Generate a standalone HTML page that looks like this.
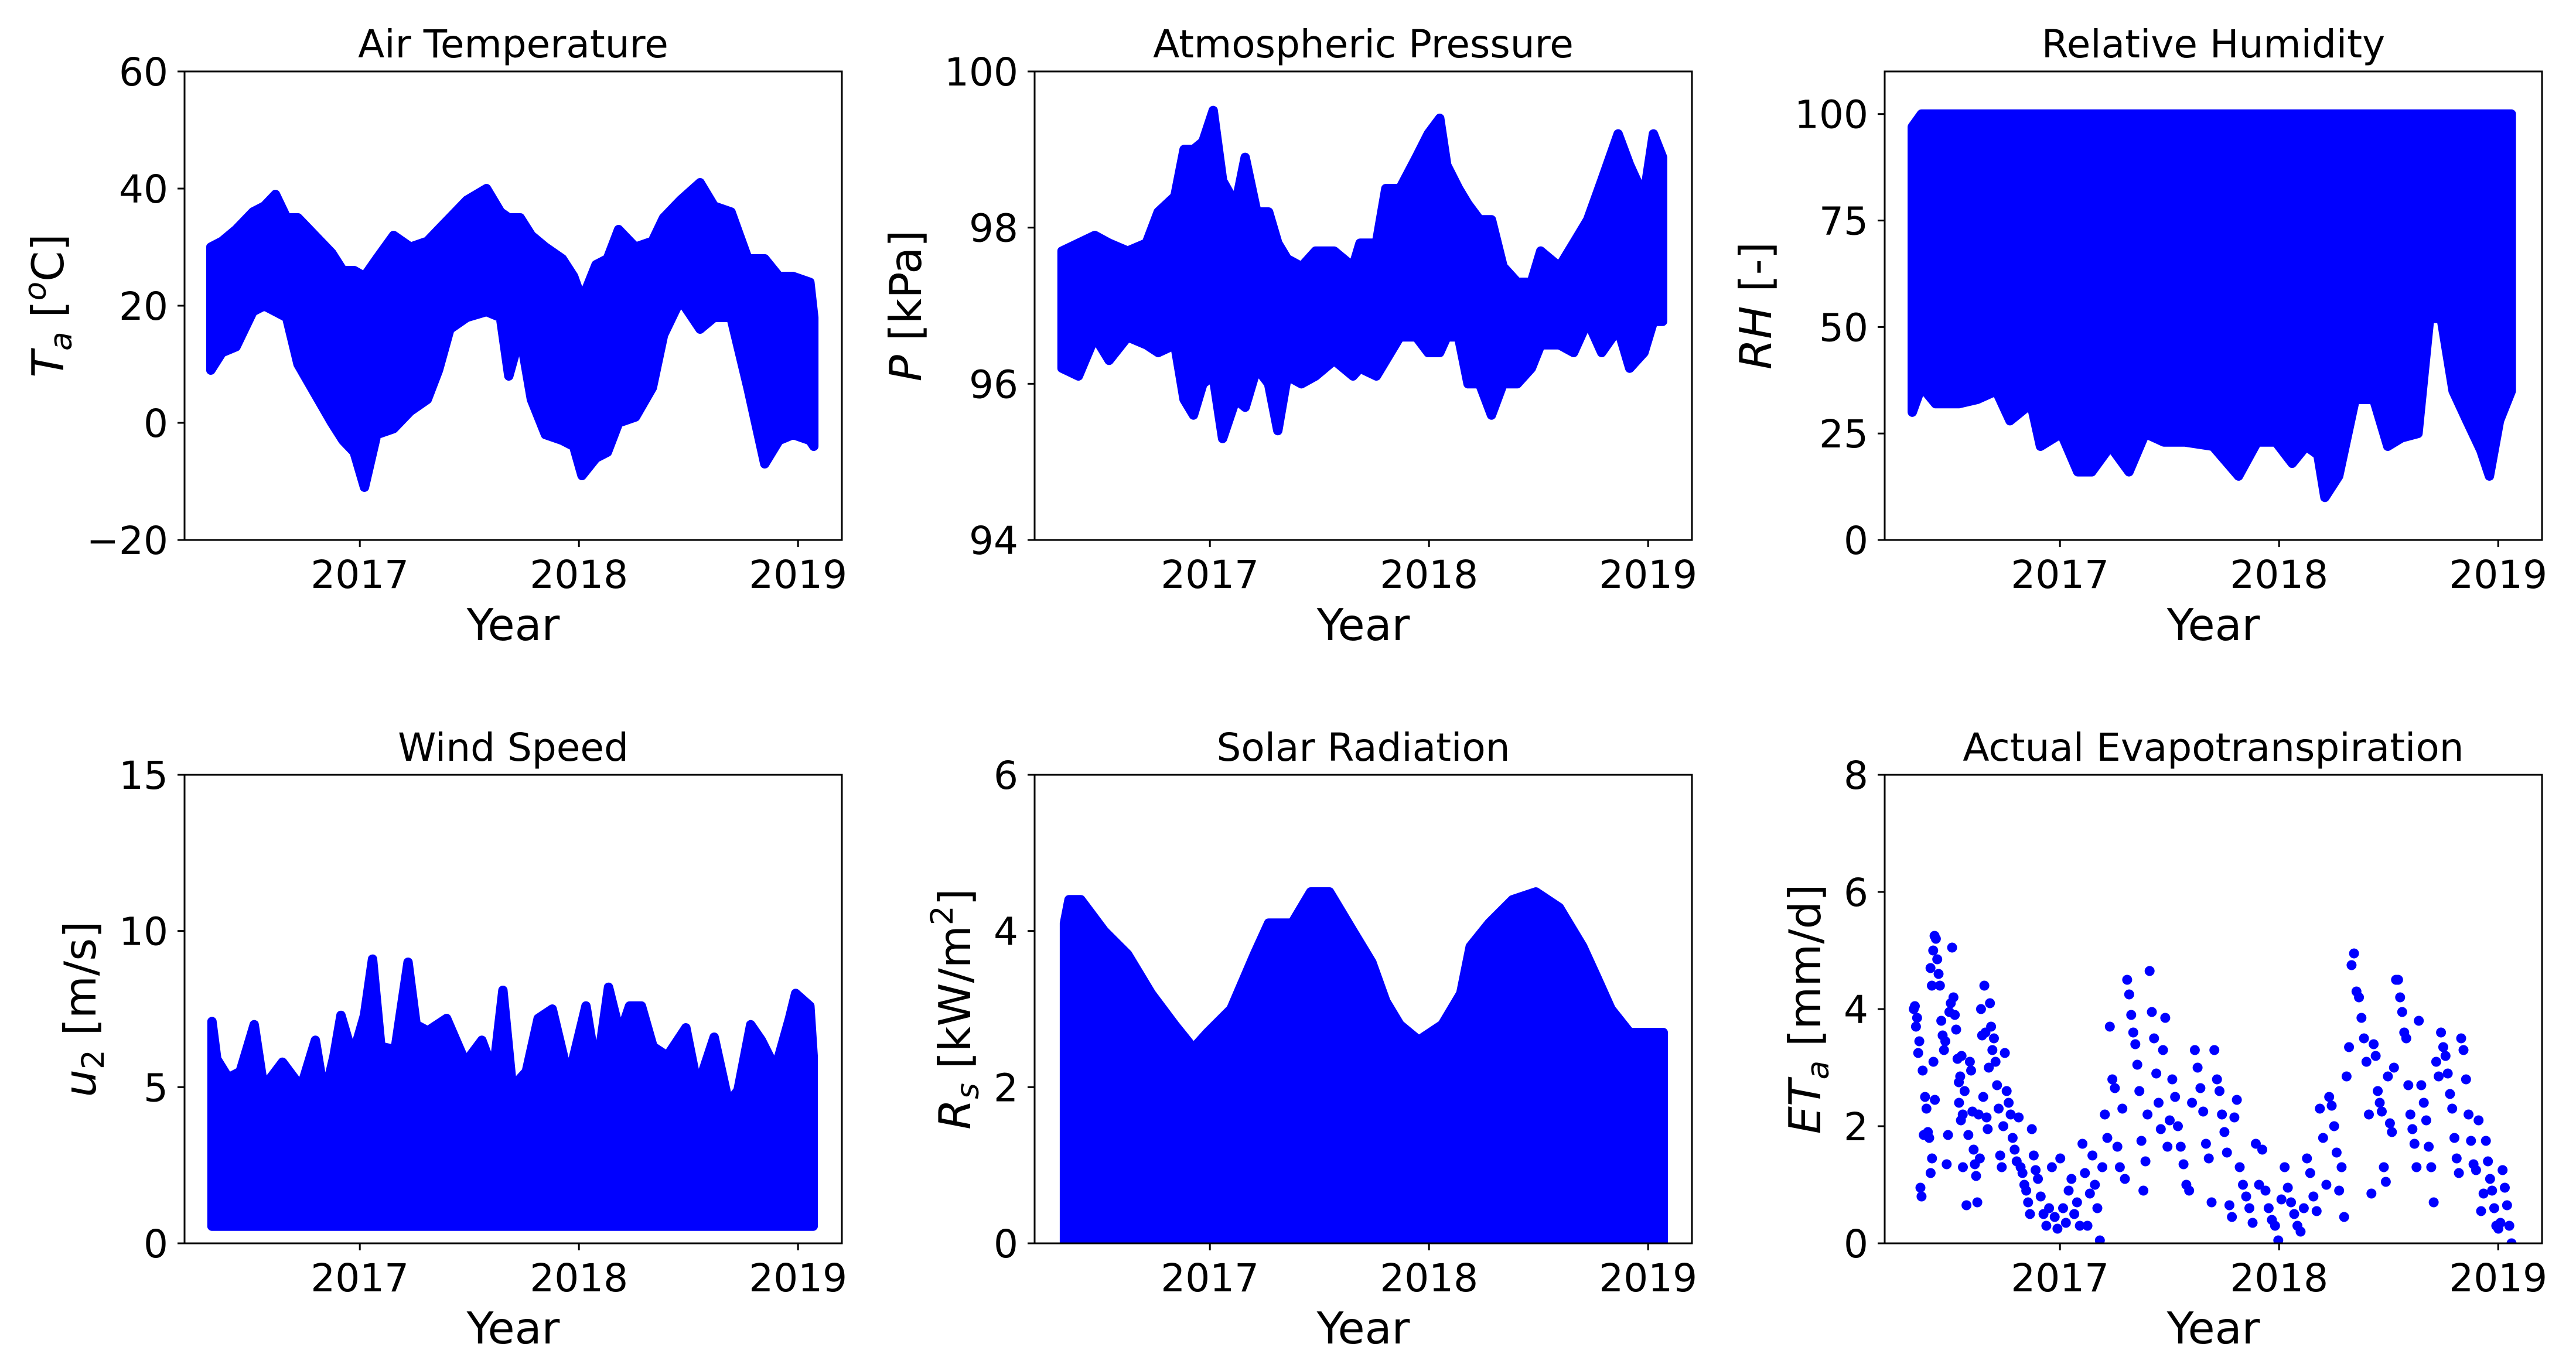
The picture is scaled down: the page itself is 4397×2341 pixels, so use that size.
<!DOCTYPE html>
<html><head><meta charset="utf-8">
<style>
html,body{margin:0;padding:0;background:#fff;}
svg{display:block;}
text{font-family:"DejaVu Sans","Liberation Sans",sans-serif;fill:#000;}
</style></head>
<body>
<svg id="fig" width="4397" height="2341" viewBox="0 0 4397 2341" xmlns="http://www.w3.org/2000/svg">
<rect x="0" y="0" width="4397" height="2341" fill="#fff"/>
</svg>
<script>
// ---------- data ----------
const xTickYears = [2017, 2018, 2019];
const xTickLabels = ["2017", "2018", "2019"];

// Air temperature envelope
const taYears = [2016.320,2016.371,2016.435,2016.512,2016.564,2016.615,2016.666,2016.718,2016.795,2016.872,2016.923,2016.974,2017.021,2017.077,2017.154,2017.231,2017.308,2017.359,2017.411,2017.488,2017.578,2017.642,2017.680,2017.732,2017.783,2017.847,2017.924,2017.976,2018.014,2018.078,2018.130,2018.181,2018.258,2018.335,2018.386,2018.463,2018.553,2018.617,2018.694,2018.771,2018.848,2018.913,2018.977,2019.054,2019.072];
const taHigh = [30,31,33,36,37,39,35,35,32,29,26,26,25,28,32,30,31,33,35,38,40,36,35,35,32,30,28,25,21,27,28,33,30,31,35,38,41,37,36,28,28,25,25,24,18];
const taLow = [9,12,13,19,20,19,18,10,5,0,-3,-5,-11,-2,-1,2,4,9,16,18,19,18,8,15,4,-2,-3,-4,-9,-6,-5,0,1,6,15,21,16,18,18,6,-7,-3,-2,-3,-4];
const taTicks = [-20,0,20,40,60];
const taTickLabels = ["\u221220","0","20","40","60"];

// Atmospheric pressure envelope
const pYears = [2016.325,2016.40,2016.475,2016.54,2016.625,2016.71,2016.764,2016.84,2016.882,2016.925,2016.968,2017.015,2017.058,2017.118,2017.161,2017.214,2017.268,2017.31,2017.353,2017.418,2017.482,2017.567,2017.653,2017.685,2017.76,2017.803,2017.867,2017.942,2017.996,2018.049,2018.081,2018.135,2018.178,2018.231,2018.285,2018.338,2018.403,2018.467,2018.51,2018.595,2018.66,2018.724,2018.788,2018.863,2018.916,2018.981,2019.024,2019.066];
const pHigh = [97.7,97.8,97.9,97.8,97.7,97.8,98.2,98.4,99.0,99.0,99.1,99.5,98.6,98.3,98.9,98.2,98.2,97.8,97.6,97.5,97.7,97.7,97.5,97.8,97.8,98.5,98.5,98.9,99.2,99.4,98.8,98.5,98.3,98.1,98.1,97.5,97.3,97.3,97.7,97.5,97.8,98.1,98.6,99.2,98.8,98.4,99.2,98.9];
const pLow = [96.2,96.1,96.6,96.3,96.6,96.5,96.4,96.5,95.8,95.6,96.0,96.1,95.3,95.8,95.7,96.2,96.0,95.4,96.1,96.0,96.1,96.3,96.1,96.2,96.1,96.3,96.6,96.6,96.4,96.4,96.6,96.6,96.0,96.0,95.6,96.0,96.0,96.2,96.5,96.5,96.4,96.8,96.4,96.7,96.2,96.4,96.8,96.8];
const pTicks = [94,96,98,100];
const pTickLabels = ["94","96","98","100"];

// Relative humidity envelope
const rhYears = [2016.326,2016.368,2016.432,2016.538,2016.623,2016.709,2016.772,2016.868,2016.911,2017.006,2017.081,2017.145,2017.23,2017.315,2017.389,2017.474,2017.57,2017.698,2017.815,2017.9,2017.985,2018.06,2018.123,2018.177,2018.209,2018.272,2018.347,2018.432,2018.496,2018.56,2018.634,2018.687,2018.74,2018.794,2018.857,2018.921,2018.96,2019.006,2019.06];
const rhHigh = [97,100,100,100,100,100,100,100,100,100,100,100,100,100,100,100,100,100,100,100,100,100,100,100,100,100,100,100,100,100,100,100,100,100,100,100,100,100,100];
const rhLow = [30,36,32,32,33,35,28,32,22,25,16,16,22,16,25,23,23,22,15,23,23,18,22,20,10,15,33,33,22,24,25,52,52,35,28,21,15,28,35];
const rhTicks = [0,25,50,75,100];
const rhTickLabels = ["0","25","50","75","100"];

// Wind speed envelope
const uYears = [2016.325,2016.347,2016.400,2016.454,2016.518,2016.561,2016.647,2016.732,2016.797,2016.839,2016.882,2016.914,2016.968,2017.021,2017.058,2017.096,2017.161,2017.220,2017.257,2017.310,2017.396,2017.482,2017.557,2017.610,2017.653,2017.696,2017.760,2017.814,2017.878,2017.953,2018.032,2018.081,2018.135,2018.188,2018.231,2018.285,2018.338,2018.403,2018.488,2018.542,2018.617,2018.683,2018.726,2018.784,2018.833,2018.897,2018.961,2018.989,2019.054,2019.069];
const uHigh = [7.1,5.9,5.3,5.5,7.0,5.0,5.8,5.0,6.5,4.7,6.0,7.3,6.0,7.3,9.1,6.3,6.2,9.0,7.0,6.8,7.2,5.8,6.5,5.5,8.1,5.0,5.5,7.2,7.5,5.3,7.6,5.5,8.2,6.7,7.6,7.6,6.3,6.0,6.9,5.0,6.6,4.5,4.9,7.0,6.5,5.6,7.2,8.0,7.6,6.0];
const uLow = [0.55,0.55,0.55,0.55,0.55,0.55,0.55,0.55,0.55,0.55,0.55,0.55,0.55,0.55,0.55,0.55,0.55,0.55,0.55,0.55,0.55,0.55,0.55,0.55,0.55,0.55,0.55,0.55,0.55,0.55,0.55,0.55,0.55,0.55,0.55,0.55,0.55,0.55,0.55,0.55,0.55,0.55,0.55,0.55,0.55,0.55,0.55,0.55,0.55,0.55];
const uTicks = [0,5,10,15];
const uTickLabels = ["0","5","10","15"];

// Solar radiation envelope
const rsYears = [2016.336,2016.357,2016.411,2016.518,2016.625,2016.732,2016.839,2016.925,2016.989,2017.096,2017.203,2017.268,2017.375,2017.460,2017.546,2017.653,2017.739,2017.803,2017.867,2017.953,2018.060,2018.145,2018.188,2018.274,2018.381,2018.488,2018.595,2018.702,2018.767,2018.831,2018.916,2019.069];
const rsHigh = [4.1,4.4,4.4,4.0,3.7,3.2,2.8,2.5,2.7,3.0,3.7,4.1,4.1,4.5,4.5,4.0,3.6,3.1,2.8,2.6,2.8,3.2,3.8,4.1,4.4,4.5,4.3,3.8,3.4,3.0,2.7,2.7];
const rsLow = [0,0,0,0,0,0,0,0,0,0,0,0,0,0,0,0,0,0,0,0,0,0,0,0,0,0,0,0,0,0,0,0];
const rsTicks = [0,2,4,6];
const rsTickLabels = ["0","2","4","6"];

// Actual evapotranspiration daily points, grouped by time window
const etGroupStart = [2016.330,2016.381,2016.406,2016.535,2016.586,2016.637,2016.688,2016.752,2016.816,2016.893,2016.995,2017.097,2017.199,2017.302,2017.404,2017.506,2017.609,2017.711,2017.813,2017.916,2018.018,2018.120,2018.223,2018.325,2018.427,2018.529,2018.632,2018.734,2018.836,2018.939,2019.015];
const etGroupEnd   = [2016.381,2016.432,2016.560,2016.586,2016.637,2016.688,2016.752,2016.816,2016.893,2016.995,2017.097,2017.199,2017.302,2017.404,2017.506,2017.609,2017.711,2017.813,2017.916,2018.018,2018.120,2018.223,2018.325,2018.427,2018.529,2018.632,2018.734,2018.836,2018.939,2019.015,2019.066];
const etGroupValues = [
 [4.0,4.05,3.7,3.85,3.25,3.45,0.95,0.8,2.95,1.85],
 [2.5,2.3,1.9,1.8,1.2,1.45,3.1,2.45],
 [4.7,4.4,5.0,5.25,5.2,4.85,4.6,4.4,3.8,3.55,3.3,3.45,1.35,1.85,3.95,4.1,5.05,4.2,3.9,3.65,3.15,2.75,2.85,3.2,1.3],
 [2.4,2.1,2.2,2.6,0.65,1.85],
 [3.1,2.95,2.25,1.6,1.35,1.15,0.7,2.2,1.45],
 [4.0,3.55,2.5,4.4,3.6,2.15,1.95,3.0,4.1,3.7],
 [3.3,3.5,3.1,2.7,2.3,1.5,1.3,2.0,3.25],
 [2.6,2.4,2.2,1.8,1.6,1.4,2.15],
 [1.3,1.2,1.0,0.9,0.7,0.5,1.95,1.5,1.25],
 [1.1,0.8,0.5,0.3,0.6,1.3,0.45,0.25],
 [1.45,0.6,0.35,0.9,1.1,0.5,0.7,0.3],
 [1.7,1.2,0.3,0.85,1.5,1.0,0.6,0.05,1.3],
 [2.2,1.8,3.7,2.8,2.65,1.65,1.3,2.3,1.1],
 [4.5,4.25,3.9,3.6,3.4,3.05,2.6,1.75,0.9,1.4,2.2],
 [4.65,3.95,3.5,2.9,2.4,1.95,3.3,3.85,1.65,2.1],
 [2.8,2.5,2.0,1.65,1.35,1.0,0.9,2.4],
 [3.3,3.0,2.65,2.25,1.7,1.45,0.7,3.3],
 [2.8,2.6,2.2,1.9,1.55,0.65,0.45,2.15,2.45],
 [1.3,1.0,0.8,0.6,0.35,1.7,1.0],
 [1.6,0.9,0.6,0.4,0.3,0.05,0.75],
 [1.3,0.95,0.7,0.5,0.3,0.2,0.6],
 [1.45,1.2,0.8,0.55,2.3,1.8,1.0],
 [2.5,2.35,2.0,1.55,0.9,1.3,0.45,2.85,3.35],
 [4.75,4.95,4.3,4.2,3.85,3.5,3.1,2.2,0.85],
 [3.4,3.2,2.6,2.4,2.25,1.3,1.05,2.85,2.05,1.9,3.0],
 [4.5,4.5,4.2,3.95,3.6,3.5,2.7,2.2,1.95,1.7,1.3],
 [3.8,2.7,2.4,2.1,1.65,1.3,0.7,3.1,2.85],
 [3.6,3.35,3.2,2.9,2.55,2.3,1.8,1.45,1.2,3.5],
 [3.3,2.8,2.2,1.75,1.35,1.25,2.1,0.55,0.85],
 [1.75,1.4,1.1,0.9,0.6,0.3,0.25,0.35],
 [1.25,0.95,0.65,0.3,0.0]
];
const etTicks = [0,2,4,6,8];
const etTickLabels = ["0","2","4","6","8"];

// ---------- layout ----------
const NS = "http://www.w3.org/2000/svg";
const svg = document.getElementById("fig");
const XMIN = 2016.2, XMAX = 2019.2, PW = 1122, PH = 800;
const BLUE = "#0000ff";

function el(tag, attrs, parent) {
  const e = document.createElementNS(NS, tag);
  for (const k in attrs) e.setAttribute(k, attrs[k]);
  (parent || svg).appendChild(e);
  return e;
}

const panels = [
  {key:"air-temperature", title:"Air Temperature", left:315, top:122, ymin:-20, ymax:60, ticks:taTicks, tickLabels:taTickLabels, tlw:139,
   label:[["T","i",0],["a","i",1]," [",["o","i",2],"C]"], band:[taYears,taHigh,taLow]},
  {key:"atmospheric-pressure", title:"Atmospheric Pressure", left:1766, top:122, ymin:94, ymax:100, ticks:pTicks, tickLabels:pTickLabels, tlw:126,
   label:[["P","i",0]," [kPa]"], band:[pYears,pHigh,pLow]},
  {key:"relative-humidity", title:"Relative Humidity", left:3217, top:122, ymin:0, ymax:110, ticks:rhTicks, tickLabels:rhTickLabels, tlw:126,
   label:[["RH","i",0]," [-]"], band:[rhYears,rhHigh,rhLow]},
  {key:"wind-speed", title:"Wind Speed", left:315, top:1323, ymin:0, ymax:15, ticks:uTicks, tickLabels:uTickLabels, tlw:84,
   label:[["u","i",0],["2","n",1]," [m/s]"], band:[uYears,uHigh,uLow]},
  {key:"solar-radiation", title:"Solar Radiation", left:1766, top:1323, ymin:0, ymax:6, ticks:rsTicks, tickLabels:rsTickLabels, tlw:42,
   label:[["R","i",0],["s","i",1]," [kW/m",["2","n",2],"]"], band:[rsYears,rsHigh,rsLow]},
  {key:"actual-evapotranspiration", title:"Actual Evapotranspiration", left:3217, top:1323, ymin:0, ymax:8, ticks:etTicks, tickLabels:etTickLabels, tlw:42,
   label:[["ET","i",0],["a","i",1]," [mm/d]"], et:true}
];

panels.forEach(p => {
  const g = el("g", {});
  
  
  const xs = yr => p.left + (yr - XMIN) / (XMAX - XMIN) * PW;
  const ys = v => p.top + PH - (v - p.ymin) / (p.ymax - p.ymin) * PH;
  const bottom = p.top + PH;

  const cid = "clip-" + p.key;
  const cp = el("clipPath", {id: cid}, g);
  el("rect", {x:p.left, y:p.top, width:PW, height:PH}, cp);
  const plot = el("g", {"clip-path": "url(#" + cid + ")"}, g);
  
  

  if (p.band) {
    const [yrs, hi, lo] = p.band;
    let d = "";
    for (let i = 0; i < yrs.length; i++) d += (i ? "L" : "M") + xs(yrs[i]).toFixed(1) + "," + ys(hi[i]).toFixed(1);
    for (let i = yrs.length - 1; i >= 0; i--) d += "L" + xs(yrs[i]).toFixed(1) + "," + ys(lo[i]).toFixed(1);
    d += "Z";
    const path = el("path", {d:d, fill:BLUE, stroke:BLUE, "stroke-width":16, "stroke-linejoin":"round"}, plot);
    
    
  }
  if (p.et) {
    etGroupValues.forEach((vals, gi) => {
      const a = etGroupStart[gi], b = etGroupEnd[gi];
      vals.forEach((v, i) => {
        const yr = a + (b - a) * (i + 0.5) / vals.length;
        const c = el("circle", {cx:xs(yr).toFixed(1), cy:ys(v).toFixed(1), r:8.5, fill:BLUE}, plot);
        
        
      });
    });
  }

  const frame = el("rect", {x:p.left, y:p.top, width:PW, height:PH, fill:"none", stroke:"#000", "stroke-width":3}, g);
  
  

  p.ticks.forEach((t, i) => {
    const y = ys(t);
    el("line", {x1:p.left - 12, x2:p.left, y1:y, y2:y, stroke:"#000", "stroke-width":3}, g);
    const tx = el("text", {x:p.left - 28, y:(y + 24).toFixed(1), "text-anchor":"end", "font-size":66}, g);
    tx.textContent = p.tickLabels[i];
    
    
  });
  xTickYears.forEach((t, i) => {
    const x = xs(t);
    el("line", {x1:x, x2:x, y1:bottom, y2:bottom + 12, stroke:"#000", "stroke-width":3}, g);
    const tx = el("text", {x:x.toFixed(1), y:bottom + 82, "text-anchor":"middle", "font-size":66}, g);
    tx.textContent = xTickLabels[i];
    
    
  });

  const tt = el("text", {x:p.left + PW / 2, y:p.top - 24, "text-anchor":"middle", "font-size":66}, g);
  tt.textContent = p.title;
  
  

  const xl = el("text", {x:p.left + PW / 2, y:bottom + 171, "text-anchor":"middle", "font-size":75}, g);
  xl.textContent = "Year";
  
  

  const bx = p.left - 68 - p.tlw, by = p.top + PH / 2;
  const yl = el("text", {x:0, y:0, "text-anchor":"middle", "font-size":75, transform:"translate(" + bx + "," + by + ") rotate(-90)"}, g);
  
  
  let shift = 0;
  p.label.forEach(part => {
    const ts = document.createElementNS(NS, "tspan");
    if (typeof part === "string") {
      ts.textContent = part;
      if (shift) { ts.setAttribute("dy", -shift); shift = 0; }
    } else {
      const [txt, sty, kind] = part;
      ts.textContent = txt;
      if (sty === "i") ts.setAttribute("font-style", "italic");
      let dy = 0;
      if (kind === 1) { ts.setAttribute("font-size", 53); dy = 14; }
      if (kind === 2) { ts.setAttribute("font-size", 53); dy = -30; }
      const total = dy - shift;
      if (total) ts.setAttribute("dy", total);
      shift = dy;
    }
    yl.appendChild(ts);
  });
});
</script>
</body></html>
